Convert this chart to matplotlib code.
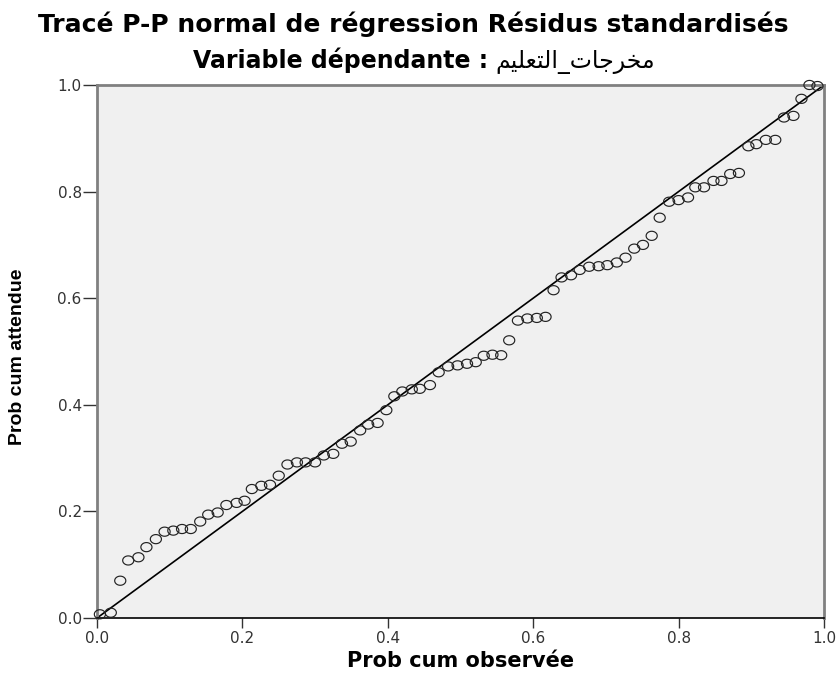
import matplotlib
matplotlib.use("Agg")
import matplotlib.pyplot as plt
from matplotlib.path import Path
import numpy as np

obs_cum = [0.004, 0.019, 0.032, 0.043, 0.057, 0.068, 0.081, 0.093, 0.105, 0.117,
           0.129, 0.142, 0.153, 0.166, 0.178, 0.192, 0.203, 0.213, 0.226, 0.238,
           0.250, 0.262, 0.275, 0.287, 0.300, 0.312, 0.325, 0.337, 0.349, 0.362,
           0.373, 0.386, 0.398, 0.409, 0.420, 0.433, 0.444, 0.458, 0.470, 0.483,
           0.496, 0.509, 0.521, 0.532, 0.544, 0.556, 0.567, 0.579, 0.592, 0.605,
           0.617, 0.628, 0.639, 0.652, 0.664, 0.677, 0.690, 0.702, 0.715, 0.727,
           0.739, 0.751, 0.763, 0.774, 0.787, 0.800, 0.813, 0.823, 0.835, 0.848,
           0.859, 0.871, 0.883, 0.896, 0.907, 0.920, 0.933, 0.945, 0.958, 0.969,
           0.980, 0.991]
exp_cum = [0.007, 0.010, 0.070, 0.108, 0.114, 0.133, 0.148, 0.162, 0.164, 0.167,
           0.167, 0.181, 0.194, 0.198, 0.212, 0.216, 0.220, 0.242, 0.248, 0.250,
           0.267, 0.288, 0.292, 0.292, 0.292, 0.305, 0.308, 0.327, 0.331, 0.352,
           0.363, 0.366, 0.390, 0.416, 0.425, 0.429, 0.430, 0.437, 0.461, 0.472,
           0.474, 0.477, 0.480, 0.492, 0.494, 0.493, 0.521, 0.558, 0.562, 0.563,
           0.565, 0.615, 0.639, 0.643, 0.653, 0.659, 0.660, 0.662, 0.667, 0.676,
           0.693, 0.700, 0.717, 0.751, 0.781, 0.784, 0.789, 0.808, 0.808, 0.820,
           0.820, 0.833, 0.835, 0.885, 0.889, 0.897, 0.897, 0.939, 0.942, 0.974,
           1.000, 0.998]
ticks = [0.0, 0.2, 0.4, 0.6, 0.8, 1.0]
tick_labels = ["0.0", "0.2", "0.4", "0.6", "0.8", "1.0"]

title = "Tracé P-P normal de régression Résidus standardisés"
subtitle = "Variable dépendante :"
# arabic name "مخرجات_التعليم" given as presentation forms in visual order
arabic = "\ufee2\ufef4\ufee0\ufecc\ufe98\ufedf\ufe8d_\ufe95\ufe8e\ufe9f\ufeae\ufea8\ufee3"
xlabel = "Prob cum observée"
ylabel = "Prob cum attendue"

plt.rcParams['font.family'] = ['DejaVu Sans']

# the source image is stretched sideways, so use slightly wide ellipses
t = np.linspace(0, 2 * np.pi, 60)
ell = Path(np.column_stack([1.22 * np.cos(t), np.sin(t)]), closed=True)

fig = plt.figure(figsize=(8.39, 6.82), dpi=100)
ax = fig.add_axes([0.1156, 0.0938, 0.8665, 0.7816])
ax.set_facecolor("#f0f0f0")

ax.plot([0, 1], [0, 1], color="black", lw=1.2, zorder=2)
ax.scatter(obs_cum, exp_cum, s=64, marker=ell, facecolors="none",
           edgecolors="#222222", linewidths=0.85, zorder=3, clip_on=False)

ax.set_xlim(0, 1)
ax.set_ylim(0, 1)
ax.set_xticks(ticks)
ax.set_xticklabels(tick_labels)
ax.set_yticks(ticks)
ax.set_yticklabels(tick_labels)
ax.tick_params(direction="out", width=1, labelsize=11, colors="#333333")
ax.tick_params(axis="y", length=10, pad=1)
ax.tick_params(axis="x", length=7, pad=2)

ax.spines["bottom"].set_color("black")
ax.spines["bottom"].set_linewidth(1.2)
for s in ["top", "right", "left"]:
    ax.spines[s].set_color("#808080")
    ax.spines[s].set_linewidth(2.0)

ax.set_xlabel(xlabel, fontsize=15, fontweight="bold")
ax.xaxis.set_label_coords(0.5, -0.062)
ax.set_ylabel(ylabel, fontsize=14, fontweight="bold", family="Liberation Sans")
ax.yaxis.set_label_coords(-0.097, 0.49)

fig.text(0.492, 0.953, title, ha="center", va="baseline", fontsize=18,
         fontweight="bold")
fig.text(0.582, 0.900, subtitle, ha="right", va="baseline", fontsize=17,
         fontweight="bold")
fig.text(0.591, 0.900, arabic, ha="left", va="baseline", fontsize=17)

fig.savefig("out.png", dpi=100)
